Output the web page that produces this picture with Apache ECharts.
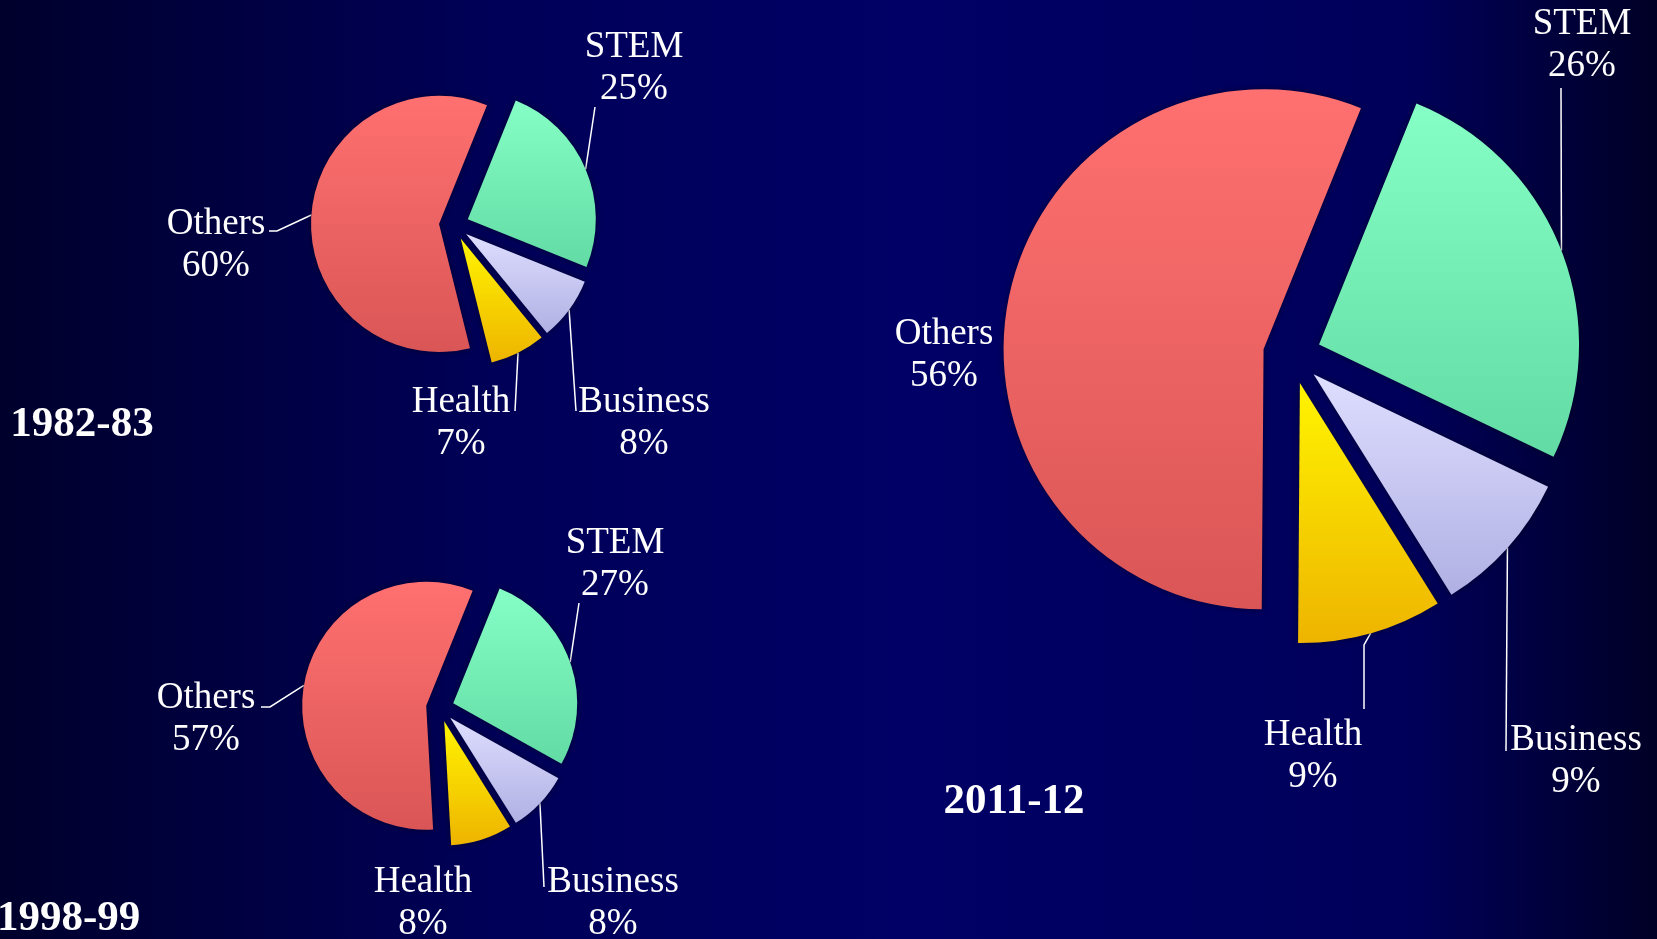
<!DOCTYPE html>
<html>
<head>
<meta charset="utf-8">
<title>Degrees by field of study</title>
<script src="https://cdn.jsdelivr.net/npm/echarts@6/dist/echarts.min.js"></script>
<style>
html, body { margin: 0; padding: 0; width: 100%; height: 100%; overflow: hidden; background: #000050; }
#chart { width: 1657px; height: 939px; }
</style>
</head>
<body>
<div id="chart"></div>
<script>
var fields = ['STEM', 'Business', 'Health', 'Others'];
var years = ['1982-83', '1998-99', '2011-12'];
var share1982 = [25, 8, 7, 60];
var share1998 = [27, 8, 8, 57];
var share2011 = [26, 9, 9, 56];

// top / bottom colour of each slice, same order as fields
var sliceColors = [
  ['#86ffc6', '#62dba4'],
  ['#dedeff', '#b0b0e4'],
  ['#fff400', '#eeb400'],
  ['#ff7070', '#da5656']
];

// label centre and the bend/end points of its leader line (px), null = no line
var spots1982 = [
  { at: [634, 68], line: [[595, 107]] },
  { at: [644, 423], line: [[576, 411]] },
  { at: [461, 423], line: [[515, 411]] },
  { at: [216, 245], line: [[277, 231], [269, 231]] }
];
var spots1998 = [
  { at: [615, 564], line: [[579, 603]] },
  { at: [613, 903], line: [[544, 887]] },
  { at: [423, 903], line: null },
  { at: [206, 719], line: [[270, 707], [261, 707]] }
];
var spots2011 = [
  { at: [1582, 45], line: [[1561, 88]] },
  { at: [1576, 761], line: [[1506, 751]] },
  { at: [1313, 756], line: [[1364, 645], [1364, 709]] },
  { at: [944, 355], line: null }
];

function grad (c) {
  return {
    type: 'linear', x: 0, y: 0, x2: 0, y2: 1,
    colorStops: [{ offset: 0, color: c[0] }, { offset: 1, color: c[1] }]
  };
}

// the exploded slices themselves
function sliceSeries (values, center, radius, offset) {
  return {
    type: 'pie',
    center: center,
    radius: radius,
    startAngle: 68,
    selectedMode: 'multiple',
    selectedOffset: offset,
    emphasis: { disabled: true },
    label: { show: false },
    labelLine: { show: false },
    data: fields.map(function (f, i) {
      return {
        name: f,
        value: values[i],
        selected: true,
        itemStyle: {
          color: grad(sliceColors[i]),
          shadowBlur: 6,
          shadowColor: 'rgba(0,0,20,0.6)'
        }
      };
    })
  };
}

// invisible twin pie, radius = slice radius + offset so the leader starts on the exploded rim
function labelSeries (values, spots, center, radius) {
  return {
    type: 'pie',
    center: center,
    radius: radius,
    startAngle: 68,
    silent: true,
    avoidLabelOverlap: false,
    emphasis: { disabled: true },
    itemStyle: { color: 'rgba(0,0,0,0)' },
    data: fields.map(function (f, i) {
      var item = { name: f, value: values[i] };
      if (!spots[i].line) item.labelLine = { show: false };
      return item;
    }),
    label: {
      show: true,
      position: 'outside',
      color: '#fff',
      fontFamily: '"Liberation Serif", "Times New Roman", serif',
      fontSize: 37,
      lineHeight: 42,
      formatter: function (p) { return p.name + '\n' + p.value + '%'; }
    },
    labelLine: {
      show: true,
      length: 10,
      length2: 10,
      lineStyle: { color: '#fff', width: 1.5 }
    },
    labelLayout: function (p) {
      var s = spots[p.dataIndex];
      var out = { x: s.at[0], y: s.at[1], align: 'center', verticalAlign: 'middle' };
      if (s.line && p.labelLinePoints) {
        var pts = [p.labelLinePoints[0]].concat(s.line);
        if (pts.length < 3) pts.push(s.line[s.line.length - 1]);
        out.labelLinePoints = pts;
      }
      return out;
    }
  };
}

var chart = echarts.init(document.getElementById('chart'));
var yearFont = 'bold 43px "Liberation Serif", "Times New Roman", serif';

chart.setOption({
  animation: false,
  backgroundColor: {
    type: 'linear', x: 0, y: 0, x2: 1, y2: 0,
    colorStops: [
      { offset: 0, color: '#00002c' },
      { offset: 0.3, color: '#000058' },
      { offset: 0.55, color: '#000066' },
      { offset: 0.85, color: '#00005a' },
      { offset: 1, color: '#000026' }
    ]
  },
  graphic: [
    { type: 'text', x: 82, y: 425, style: { text: years[0], fill: '#fff', font: yearFont, align: 'center', verticalAlign: 'middle' } },
    { type: 'text', x: -3, y: 919, style: { text: years[1], fill: '#fff', font: yearFont, align: 'left', verticalAlign: 'middle' } },
    { type: 'text', x: 1014, y: 802, style: { text: years[2], fill: '#fff', font: yearFont, align: 'center', verticalAlign: 'middle' } }
  ],
  series: [
    sliceSeries(share1982, [454, 225], 128, 15),
    sliceSeries(share1998, [440, 708], 124, 14),
    sliceSeries(share2011, [1292, 355], 260, 29),
    labelSeries(share1982, spots1982, [454, 225], 143),
    labelSeries(share1998, spots1998, [440, 708], 138),
    labelSeries(share2011, spots2011, [1292, 355], 289)
  ]
});

window.addEventListener('resize', function () { chart.resize(); });
</script>
</body>
</html>
